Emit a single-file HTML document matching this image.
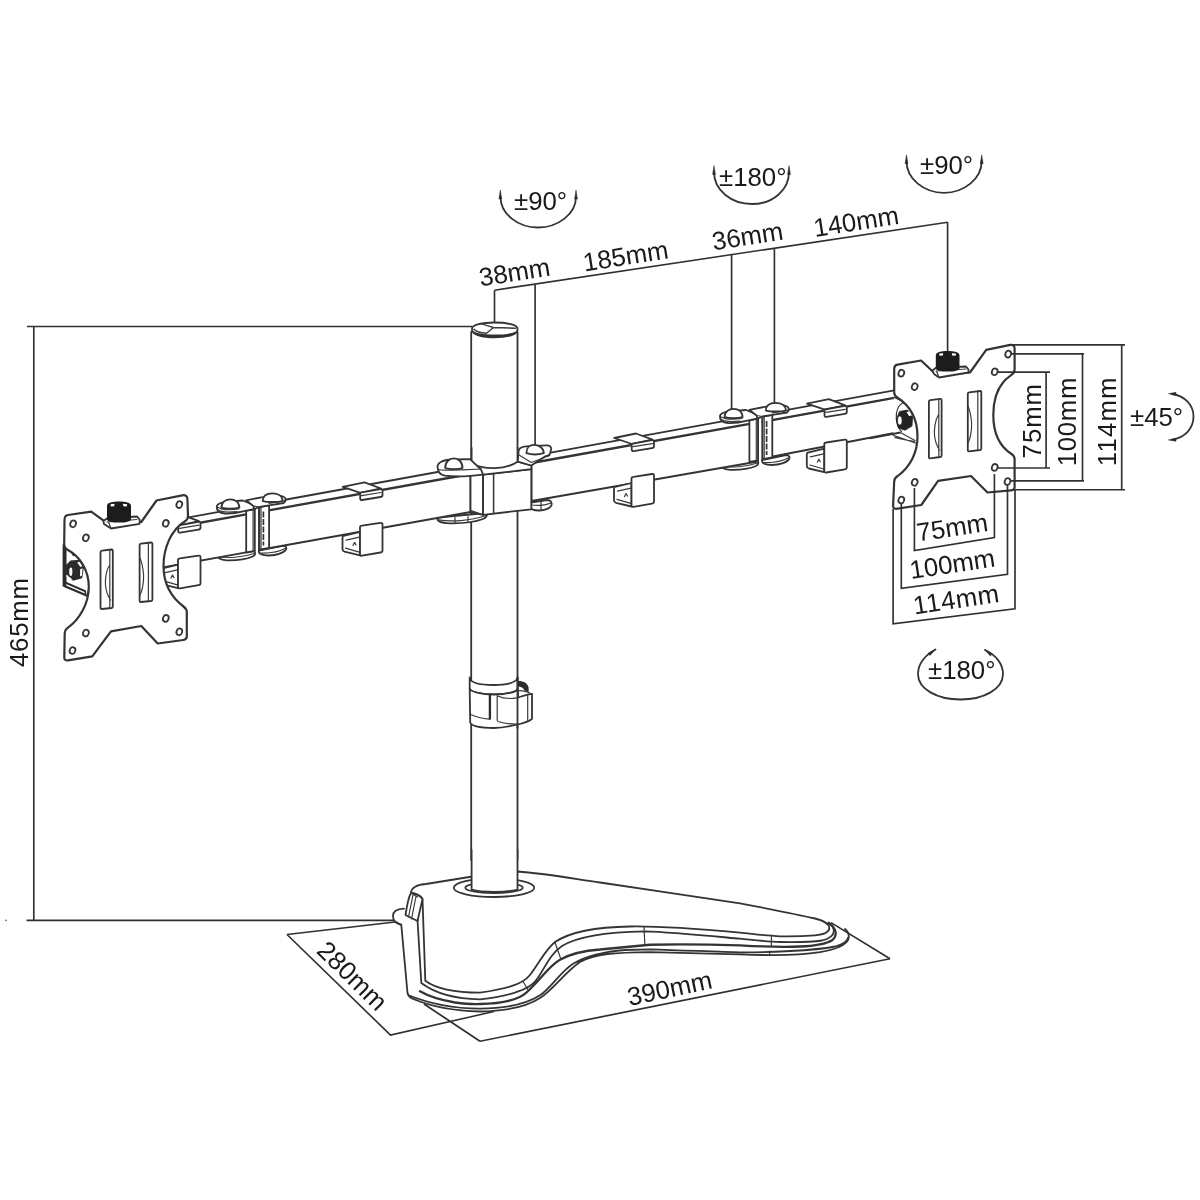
<!DOCTYPE html>
<html><head><meta charset="utf-8"><title>Dual monitor stand</title>
<style>
html,body{margin:0;padding:0;background:#fff;width:1200px;height:1200px;overflow:hidden}
svg{display:block;will-change:transform}
text{font-family:"Liberation Sans",sans-serif;font-size:25.8px;fill:#1a1a1a}
.l{fill:none;stroke:#343434;stroke-width:1.8;stroke-linejoin:round;stroke-linecap:round}
.t{fill:none;stroke:#3a3a3a;stroke-width:1.2;stroke-linejoin:round;stroke-linecap:round}
.d{fill:none;stroke:#303030;stroke-width:1.65}
.w{fill:#fff;stroke:#343434;stroke-width:1.8;stroke-linejoin:round}
.k{fill:#1c1c1c;stroke:none}
</style></head>
<body>
<svg width="1200" height="1200" viewBox="0 0 1200 1200">
<!-- ===== DIMENSIONS ===== -->
<circle cx="6" cy="920.3" r="0.9" fill="#666"/>
<g id="dims">
<!-- 465 -->
<path class="d" d="M27,326.5H472M33.8,326.5V920.3M26.5,920.3H394"/>
<text transform="translate(27.5,667) rotate(-90)" letter-spacing="0.75">465mm</text>
<!-- top dimension line -->
<path class="d" d="M494.5,290.2L947.6,222.2M494.5,290.2V327M535.1,284.1V455M731.6,254.7V410M774.4,248.6V405M947.6,222.2V356"/>
<text transform="translate(480.5,286.5) rotate(-9)">38mm</text>
<text transform="translate(584.5,271.5) rotate(-9)">185mm</text>
<text transform="translate(713.5,250.5) rotate(-9)">36mm</text>
<text transform="translate(815,237) rotate(-9)">140mm</text>
</g>
<!-- rotation arcs -->
<g id="rot">
<path class="l" d="M500.5,197 C500.5,214 518,227.5 538,227.5 C558,227.5 576,214 576,197"/>
<text x="514" y="209.5">±90°</text>
<path class="l" d="M714,172 C714,190 731,204 752,204 C773,204 789,190 789,172"/>
<text x="719" y="185.5">±180°</text>
<path class="l" d="M906.5,161 C906.5,179 924,192.8 944,192.8 C964,192.8 981.7,179 981.7,161"/>
<text x="920" y="174.4">±90°</text>
<path class="l" d="M935.5,649.5 C925,655 918,664 918,674 C918,689 937,699.5 960.5,699.5 C984,699.5 1003,689 1003,674 C1003,664 996,655 985,650"/>
<text x="928" y="679">±180°</text>
<path class="l" d="M1172,394 C1185,396 1193.5,405 1193.5,416.6 C1193.5,428.5 1185,437.8 1172,439.6"/>
<text x="1130" y="426">±45°</text>
<g fill="#2a2a2a" stroke="#2a2a2a" stroke-width="0.5" stroke-linejoin="round">
<path d="M500.3,190 L498.9,199 L501.7,199 Z"/><path d="M576,190 L574.6,199 L577.4,199 Z"/>
<path d="M714,165.5 L712.6,174.5 L715.4,174.5 Z"/><path d="M789,165.5 L787.6,174.5 L790.4,174.5 Z"/>
<path d="M906.5,154.8 L905.1,163.8 L907.9,163.8 Z"/><path d="M981.7,154.8 L980.3,163.8 L983.1,163.8 Z"/>
<path d="M935.8,649.3 L929.9,655.6 L928.2,653.2 Z"/><path d="M984.8,649.8 L992.1,653.6 L990.4,656.1 Z"/>
<path d="M1168.5,393.7 L1176,392.3 L1176,395.3 Z"/><path d="M1168.5,439.9 L1176,438.3 L1176,441.3 Z"/>
</g>

</g>
<!-- ===== POLE ===== -->
<g id="pole">
<path class="l" d="M471.2,332V860M517.5,332V860"/>
<!-- cap -->
<path class="w" d="M472,328.5 C472,325 482,322.5 494.7,322.5 C507.5,322.5 517.5,325 517.5,328.5 L517.5,330 C517.5,334.5 507.5,337.3 494.7,337.3 C482,337.3 472,334.5 472,330 Z"/>
<path fill="#303030" d="M472,329.5 C472,334.3 482,337.4 494.7,337.4 C507.5,337.4 517.5,334.3 517.5,329.5 C517.2,332.6 507.5,334.6 494.7,334.6 C482,334.6 472.3,332.6 472,329.5 Z"/>
<path class="t" style="stroke-width:1.4" d="M480,323.4 C485,325 490,326.5 493.5,327.5 L515.5,328.2 M493.5,327.5 L486.5,333.2 C482,333 476,331.5 474,329.3"/>
<!-- cable clip -->
<path class="w" d="M469.7,677.5 C470,683 481,685 494,685 C505,685 517,683 517.6,677.5 L517.6,689 C517,692 506,694.5 494,694.5 C481,694.5 470,692 469.7,688.5 Z"/>
<path class="w" d="M469.7,688.5 C470,691.5 481,694.5 494,694.5 C506,694.5 517,692 517.6,689 L518,697.6 C522,696.5 527,694 532,693.8 L532,718.8 C529,722 520,724 514.2,725.2 C507,727 500,728 494,728 C481,728 471,726 470.2,722.4 Z"/>
<path class="t" d="M470,714.2 C475,716.5 482,718.5 489.4,719.2 M497.2,695.5 V720.5 M497.7,696 C503,698.5 510,699.2 517.5,697.6 M497.7,721.5 C505,723.5 512,724.5 518,724 M527.7,694.8 V720.3 M518,690.6 C523,690.5 527.5,691.5 530,693.2"/>
<path d="M489.9,695 V719.5" stroke="#2b2b2b" stroke-width="2.3" fill="none"/>
<path d="M517.5,681 C522.5,680.5 527.5,682.5 528.6,687.5 L528.6,692 L524.5,690.5 C523.5,688 521,686.8 517.5,686.6 Z" fill="#2b2b2b"/>
<path class="l" d="M517.5,677.5V728"/>
</g>
<!-- ===== BASE ===== -->
<g id="base">
<!-- floor dims -->
<path class="d" d="M287,934.5 L395,922 M287,934.5 L390.5,1035 L494,1011.5 M480,1041.3 L424,1004 M480,1041.3 L890,958.7"/>
<text transform="translate(315.5,952) rotate(44.5)">280mm</text>
<text transform="translate(629.5,1006) rotate(-12)">390mm</text>
<!-- flange (lower tier) -->
<path fill="#fff" d="M393,916 C393,911 398,909 404,908.7 L420,906 L420,990 L830,922.5 C838,924 846,928 848.3,933 C849.8,938 846,943 838,946.5 C820,952 800,955.5 770,955.8 L740,954.5 L650,952.2 C615,952.5 595,954 580,962 C565,972 553,990 540,998 C525,1008 505,1011 480,1011.5 C455,1011 432,1007 412,998.5 C409,997 408,995 407.5,993 L401.3,925 C397,924 393,921 393,916 Z"/>
<path class="l" d="M404,908.7 C398,909 393,911 393,916 C393,921 397,924 401.3,925 L407.5,993 C408,995 409,997 412,998.5 C432,1007 455,1011 480,1011.5 C505,1011 525,1008 540,998 C553,990 565,972 580,962 C595,954 615,952.5 650,952.2 L740,954.3 C770,955.6 800,955.3 820,952.2 C835,949.5 846,945 848.3,939.5 C849.5,935.5 848,931.5 845,929 M393.5,919.5 C395,922 398,923.5 401.3,924.5 M408,995 C430,1004 455,1008.5 480,1008.7 C505,1008.5 525,1005 540,995.3 C552,987 560,972 573.5,963.5 C585,957 600,952 625,950 L650,949.3 C690,950.5 720,952 740,952.3 C760,952.5 775,951.8 790,951 C810,950 825,948.5 835,946.5 C843,944.5 847.5,941 848.3,937.3"/>
<path class="l" style="stroke-width:2.3" d="M420,991.3 C428,996 440,1000 455,1002.5 C465,1003.8 475,1004.2 480,1004 C505,1003.5 520,999 527,992 C540,980 550,965 560,959.75 C572,953 585,950.5 600,949.5 L650,944.75 C680,944.2 710,944.5 740,945.3 C760,946.5 780,947.3 800,946.5 C815,946 827,943.5 832.5,940 C836,937.5 836.5,932.5 834.5,929 C833,926.5 831,924.5 829,923"/>
<!-- upper body -->
<path class="w" d="M411,893 C411,888 417,884.5 426,884 L494,873 L518,871.5 C540,873 560,876.5 600,882.5 L740,903.3 C775,910 800,915 815,918.5 C824,920.8 829.3,924 829.3,928 C829.3,932 824,934.5 815,935.3 C800,936.5 790,936.5 780,936.3 C765,935.5 752,933.8 740,932.7 C700,929 660,926 630,926.5 C595,927 570,932 555,942 C545,950 540,962 530,975 C522,985 505,989 480,992.7 C455,992.5 435,988 425.3,980.7 L422.5,899 C420,895 415,893.5 411,893 Z"/>
<path class="l" d="M828.5,922.5 C831.5,924.5 834,928 833.8,931.5 C833.5,935.5 830,938.5 822,940.5 C812,942 795,942.3 780,942 C765,941.5 752,939.8 740,938.7 C700,935 670,932 645,931.3 C605,932 578,936 562,946 C550,954 545,968 537,979 C530,990 510,996 480,999.3 C458,999 436,994 421.3,983 L417.5,920"/>
<path class="t" d="M644,926.8 L644.8,944 M771.5,935.5 L771.3,946.5 M770,951 L769.5,955 M554.8,941.8 L560.8,959 M523,981.5 L528.5,990.5"/>
<!-- grip rib -->
<path class="w" d="M411,893 C409,896 407,905 405.5,915 L417.5,921 L422.5,899 C420,895 415,893.5 411,893 Z"/>
<path class="t" d="M413,895 L408.5,917 M416,896.5 L411.5,919 M411,893 L417.5,897"/>
<!-- pole hole -->
<ellipse cx="494" cy="887.7" rx="40.2" ry="9.3" class="w"/>
<ellipse cx="494" cy="887.7" rx="28.7" ry="5.3" class="w"/>
<path class="w" d="M471.6,850 L471.6,889 C478,891 486,891.5 494.5,891.5 C503,891.5 511,891 517.5,889 L517.5,850 Z" style="stroke:none"/>
<path class="l" d="M471.6,850 L471.6,889.5 M517.5,850 L517.5,889.5 M471.6,889.5 C478,891.3 486,891.8 494.5,891.8 C503,891.8 511,891.3 517.5,889.5"/>
</g>
<path class="d" d="M890,958.7 L831,922.6"/>
<!-- ===== ARM ===== -->
<defs>
<g id="jU">
<!-- bottom tabs (under arm) -->
<path class="w" d="M720.5,463.5 C719.5,467 723,469.5 730,469.8 C740,470 750,468.5 756,466 C758.5,464.8 759,462.5 757.5,460.5 Z"/>
<path class="t" d="M721.5,466 C730,468 746,467 757.5,463"/>
<path class="w" d="M762,460 C761.5,463.5 765,465 772,465 C780,464.5 786,462.5 788.5,460 C790.5,457.5 789.5,455 786,455 Z"/>
<path class="t" d="M762.5,462.5 C772,463 782,461.5 788.8,457.8"/>
</g>
<g id="jO">
<!-- left block -->
<path class="w" d="M749.4,420 L758,418.5 L758,460.5 L749.4,462 Z"/>
<path class="t" d="M756.3,418.8 V460.8"/>
<!-- right block -->
<path class="w" d="M762.5,416.5 L772.3,414.8 L772.3,457.5 L762.5,459.2 Z"/>
<path class="t" d="M764.2,416.2 V459"/>
<path d="M766.6,421 V455" stroke="#333" stroke-width="1.7" stroke-dasharray="6,1.5" fill="none"/>

<!-- left tab + washer + screw -->
<path class="w" d="M720,417 C719.5,413.5 724,411.8 731,411.2 L746,410 L758,415 L758,418.5 L745,421.2 C740,422.6 734,423.2 728,423 C723,422.6 720,420.5 720,417 Z"/>
<path class="t" d="M720.3,418.8 C723,421.3 730,422.3 740,421.2 M721,416.8 C724,419 732,419.8 742,418.5"/>
<path class="w" d="M724.6,417.2 C724.6,411.5 729,408.8 733.6,408.8 C738.2,408.8 742.6,411.5 742.6,417.2 C738,418.6 729,418.6 724.6,417.2 Z"/>
<!-- right tab + screw -->
<path class="w" d="M749.3,409.8 L766,406.6 C770,405.6 779,404.8 785,405.6 C788.3,406.3 789.3,408.4 788.5,410.6 L787,412.5 L772.3,414.8 L762.5,416.5 L757.5,418.6 L756.5,415.5 Z"/>
<path class="t" d="M756.5,415.5 L762.5,416.5 L762.5,419"/>
<path class="t" d="M772.3,412.8 L788,410.2"/>
<path class="w" d="M765.9,410.6 C765.9,405.2 770,402.8 775.6,402.8 C781,402.8 785.8,405.2 785.8,410.6 C781,411.8 770.5,411.8 765.9,410.6 Z"/>
</g>
<g id="clip">
<!-- top clip -->
<path class="w" d="M614.2,438 L636,433.5 L652.5,439.6 L632,444 Z"/>
<path class="w" d="M632,443.8 L652,440.2 Q654,440 654,442 L654,446 Q654,447.8 652,448.1 L633.6,451.1 Q631.7,451.3 631.7,449.5 L631.7,445.3 Q631.7,444 632,443.8 Z"/>
<path class="t" d="M633,446.7 L652.5,443.6"/>
<!-- bottom clip -->
<path class="w" d="M615,487 L631.5,483 L631.5,506.5 L616,502.8 Q614,502.2 614,500.2 L614,488.6 Q614,487.3 615,487 Z"/>
<path class="t" d="M617.5,491.2 L631,488.2 M617,499.3 L630.8,503.3 M624.5,496.5 L626,493.5 L627.5,496"/>
<path class="w" d="M631.5,478.6 Q631.5,477 633.5,476.8 L652,474 Q654,473.8 654,475.6 L654,501.6 Q654,503.3 652,503.6 L633.5,506.8 Q631.5,507.1 631.5,505.3 Z"/>
</g>
</defs>
<g id="arm">
<use href="#jU"/>
<use href="#jU" transform="translate(-503.2,90.5)"/>
<!-- hub bottom tabs -->
<g transform="translate(0,-2.5)">
<path class="w" d="M437.6,520 C436.5,523.5 440,525.5 450,525.8 C462,526 475,524.5 483,521.5 C487,520 487.5,517.5 486,515.5 Z"/>
<path class="t" d="M438.5,522.3 C450,524.5 470,523.5 486.3,518 M455,520 V525 M468,519 V524.5"/>
<path class="w" d="M531,509 C530.5,512 534,513.2 540,513 C546,512.5 550,510.5 551.5,508 C552.5,505 550.5,502.5 547,502.5 L531,505 Z"/>
<path class="t" d="M531,507.5 C538,508.5 546,507.5 551.5,505.5 M541,504 V512"/>
</g>
<!-- L-outer (extends behind plate) -->
<path class="w" d="M160,522.6 L249,506.3 L249,551.9 L160,568 Z"/>
<path class="l" style="stroke-width:2.3" d="M160,530 L249,513.8"/>
<!-- L-inner -->
<path class="w" d="M259,504.5 L470.5,466 L470.5,512 L259,550 Z"/>
<path class="l" style="stroke-width:2.3" d="M259,512.1 L470.5,474"/>
<!-- R-inner -->
<path class="w" d="M531.5,456.1 L758,414.8 L758,461.5 L531.5,501 Z"/>
<path class="l" style="stroke-width:2.3" d="M531.5,463 L758,422.3"/>
<!-- R-outer (extends behind plate) -->
<path class="w" d="M762.5,414.4 L897,389.8 L897,432.5 L762.5,458.5 Z"/>
<path class="l" style="stroke-width:2.3" d="M762.5,421.9 L897,397.3"/>
<!-- clips -->
<use href="#clip"/>
<use href="#clip" transform="translate(-271.5,48.9)"/>
<use href="#clip" transform="translate(192.8,-34.3)"/>
<use href="#clip" transform="translate(-453.5,81.6)"/>
<!-- joints -->
<use href="#jO"/>
<use href="#jO" transform="translate(-503.2,90.5)"/>
<!-- HUB -->
<path class="w" d="M470.5,466 L483.1,468.7 L483.1,514.8 L470.5,512 Z"/>
<path class="t" d="M470.5,510.4 L483.1,514.8"/>
<path class="w" d="M483.1,474.7 L531.3,469.2 L531.3,509.3 L483.1,514.8 Z"/>
<path class="l" style="stroke-width:1.5" d="M493.6,473.6 V513.3"/>
<path class="w" d="M483.1,474.7 L478,469 L472.3,463.3 L517.8,461.7 L531.3,465.5 L531.3,469.2 Z"/>
<path class="w" d="M471.6,448 L471.6,463.3 C478,467.2 486,468.4 495,468.2 C504,468 512,465.5 517.5,461.7 L517.5,448 Z" style="stroke:none"/>
<path class="l" d="M471.6,448 L471.6,463.3 C478,467.2 486,468.4 495,468.2 C504,468 512,465.5 517.5,461.7 L517.5,448"/>
<!-- hub left tab + screw -->
<path class="w" d="M437.6,467.5 C437,463 442,460 452,459.5 L470,459.2 L481,469.5 L483.1,474.7 L470.5,475.8 C462,476.5 452,476.5 445,475.6 C440,474.8 437.8,471.5 437.6,467.5 Z"/>
<path class="t" d="M438.5,469.5 C441,470.6 450,470.2 462,469.8 L481.5,469"/>
<path class="w" d="M445.2,468 C445.2,461.5 449.5,458.4 453.8,458.4 C458.2,458.4 462.5,461.5 462.5,468 C458,469.5 450,469.5 445.2,468 Z"/>
<!-- hub right tab + screw -->
<path class="w" d="M518.5,452 C518.3,448.5 521,446.8 526,446.4 L546,445.3 C550,445.1 551.6,447 551.1,449.5 L550.2,453 C549.6,455.2 547.6,456 545,456.4 L531.3,465.5 L517.8,461.7 Z"/>
<path class="t" d="M519,455 L531.3,462.5 L549.8,455.5"/>
<path class="w" d="M526.4,453.2 C526.4,447.5 530,444.9 534,444.9 C538.5,444.9 543.8,447.5 543.8,453.2 C539,454.6 531,454.6 526.4,453.2 Z"/>
</g>
<!-- ===== LEFT PLATE ===== -->
<g id="lplate">
<!-- mechanism behind -->
<path class="w" d="M63.5,545 L63.5,586 L87,596 L92,580 L92,560 L80,548 Z"/>
<path fill="#2b2b2b" d="M63,546 L66.5,546 L66.5,585 L63,585 Z"/>
<path fill="none" stroke="#2b2b2b" stroke-width="2.2" d="M66.5,548.5 C70,550 73,553 74,556"/>
<path fill="#2b2b2b" d="M63.2,580.5 L86,590.5 L86.5,595.5 L64,586.5 Z"/>
<path fill="#fff" d="M66,584 L84.5,592 L84.8,593.6 L66.5,585.8 Z"/>
<path fill="#2b2b2b" d="M70.5,560.5 L79.8,559.8 L84,567 L82.2,578.2 L73.2,580.8 L66.2,575 L66,565 Z"/>
<path fill="#fff" d="M77.2,562.4 L79.5,561.8 L82.4,566 L80.4,567 Z M80.2,569 L82.6,568.4 L82,575.6 L80,576.4 Z M65.8,576 L67,575 L71.6,578.2 L70.8,579.8 Z"/>
<ellipse cx="70.8" cy="571.8" rx="2.6" ry="5.2" fill="none" stroke="#2b2b2b" stroke-width="1.2"/>
<ellipse cx="70.8" cy="571.8" rx="1.6" ry="4.2" fill="#fff"/>
<path class="w" style="stroke-width:2.2" d="M64.5,520 Q64.5,515.5 68,515 L91.2,511.6 L104,520.9 L141.3,522 L156.5,500.5 L182.2,495.3 Q187.4,494.5 187.4,499.3 L188,516 Q188,519.5 185,521.3 C171,530 163.5,548 163.5,566 C163.5,584 171,597 183.5,606.5 Q186.8,609 186.8,612 L186.8,636.5 Q186.8,639.5 183.3,640 L157.7,643.5 L141.3,626 L111,631.3 L92.3,656.3 L68,660.4 Q64.3,661 64.3,657.5 L64.7,633.5 Q64.8,629.8 68,627.6 C79,620 88.8,604 88.8,587 C88.8,570 80,556.5 67.5,549.8 Q64.2,548 64.2,544.5 Z"/>
<!-- holes -->
<g class="l">
<ellipse cx="73.1" cy="523.8" rx="2.8" ry="3.4" transform="rotate(20 73.1 523.8)"/>
<ellipse cx="85.9" cy="537.8" rx="2.8" ry="3.4" transform="rotate(20 85.9 537.8)"/>
<ellipse cx="179.3" cy="504.6" rx="2.8" ry="3.4" transform="rotate(20 179.3 504.6)"/>
<ellipse cx="165.8" cy="523.3" rx="2.8" ry="3.4" transform="rotate(20 165.8 523.3)"/>
<ellipse cx="72.5" cy="650.5" rx="2.8" ry="3.4" transform="rotate(20 72.5 650.5)"/>
<ellipse cx="85.9" cy="633" rx="2.8" ry="3.4" transform="rotate(20 85.9 633)"/>
<ellipse cx="179.3" cy="631.8" rx="2.8" ry="3.4" transform="rotate(20 179.3 631.8)"/>
<ellipse cx="165.8" cy="618.4" rx="2.8" ry="3.4" transform="rotate(20 165.8 618.4)"/>
</g>
<!-- slots -->
<path class="l" d="M100.5,552 Q100.5,550.7 102,550.6 L111.5,549.5 Q112.8,549.5 112.8,551 L112.8,606.5 Q112.8,607.8 111.5,608 L102,609 Q100.5,609.2 100.5,607.8 Z"/>
<path class="t" d="M109.8,550.8 V608 M109.8,565 C106,570 105,580 105.5,585 C106,592 108,596 110.5,600"/>
<path class="l" d="M139.6,545 Q139.6,543.8 141,543.6 L151,542.5 Q152.4,542.4 152.4,544 L152.4,599.5 Q152.4,600.8 151,601 L141,602 Q139.6,602.2 139.6,600.8 Z"/>
<path class="t" d="M148.4,543 V601.3 M140,558 C143,565 144,575 143.5,580 C143,587 141.5,592 140,595"/>
<!-- knob -->
<path class="w" d="M103.4,521 L107,518.5 L137,516.5 L139.6,519.5 L139.6,523.8 L111,528.5 L104,524 Z"/>
<path class="t" d="M107,522 L137,519.5 M111,528.5 L108.5,522"/>
<path class="k" d="M107,506 C107,502.5 112.5,501.6 119,501.6 C125.5,501.6 131,502.5 131,506 L131,519.5 C131,521.5 125.5,522.6 119,522.6 C112.5,522.6 107,521.5 107,519.5 Z"/>
<path fill="#fff" d="M110.5,504.2 L114.5,503.8 L114.2,506.2 L110.8,506.4 Z M123,503.8 L127.2,504.2 L126.8,506.4 L123.3,506.2 Z"/>
</g>
<!-- ===== RIGHT PLATE ===== -->
<g id="rplate">
<path fill="#fff" d="M894,396 L903,401 L912,410 L918,425 L918,446 L893,446 Z"/>
<path class="l" d="M895,397.5 C899,399 902,401 904,403 M870,438.3 L900.3,432.5"/>
<path class="t" d="M902.7,402.8 C897.5,406 896,412 896.3,418 C896.5,424 898,428.5 901.5,431.3"/>
<path fill="#222" stroke="#222" stroke-width="0.8" d="M899.5,411.5 L907.5,410 L912.6,416.5 L912,426 L905,430.2 L898.5,428 L896.3,419.5 Z"/>
<ellipse cx="899.8" cy="420.5" rx="2.3" ry="4.6" fill="#fff" stroke="#222" stroke-width="0.8"/>
<path fill="#fff" d="M906.5,412 L909.5,411.5 L912,415.5 L909,416 Z"/>
<path class="t" d="M893.3,435.4 L915.5,443 M895,437.6 L914.3,441.6 M900.3,432.5 L915,440.5"/>
<path class="w" style="stroke-width:2.2" d="M894.2,369 Q894.2,365.2 897.5,364.7 L921.1,360.5 L936.7,375.3 L970,372.5 L986.2,349.8 L1010.3,344.9 Q1014.6,344.5 1014.6,348.4 L1014.6,369.5 Q1014.6,373 1011.5,374.8 C999,383 993.3,398 993.3,415 C993.3,432 999,446 1011.5,454 Q1014.6,456 1014.6,459 L1014.6,487.2 Q1014.6,490 1011,490.3 L987.5,492.5 L971,476 L938.1,480.9 L921.3,505 L896,508.8 Q893.1,509 893.1,505.5 L894.2,481.5 Q894.3,478.2 897.3,476.3 C910.5,467 917.5,452 917.5,436.5 C917.5,420 910.5,406 897.3,397.5 Q894.2,395.5 894.2,392.5 Z"/>
<g class="l">
<ellipse cx="901.3" cy="373.2" rx="2.8" ry="3.4" transform="rotate(20 901.3 373.2)"/>
<ellipse cx="914.7" cy="386.7" rx="2.8" ry="3.4" transform="rotate(20 914.7 386.7)"/>
<ellipse cx="1008.2" cy="354.1" rx="2.8" ry="3.4" transform="rotate(20 1008.2 354.1)"/>
<ellipse cx="994.7" cy="371.8" rx="2.8" ry="3.4" transform="rotate(20 994.7 371.8)"/>
<ellipse cx="994.7" cy="467.4" rx="2.8" ry="3.4" transform="rotate(20 994.7 467.4)"/>
<ellipse cx="1007.5" cy="481.6" rx="2.8" ry="3.4" transform="rotate(20 1007.5 481.6)"/>
<ellipse cx="914.7" cy="482.3" rx="2.8" ry="3.4" transform="rotate(20 914.7 482.3)"/>
<ellipse cx="901.3" cy="500" rx="2.8" ry="3.4" transform="rotate(20 901.3 500)"/>
</g>
<path class="l" d="M928.9,401.5 Q928.9,400.3 930.3,400.1 L940.3,398.8 Q941.6,398.7 941.6,400 L941.6,455.5 Q941.6,456.8 940.3,457 L930.3,458.3 Q928.9,458.5 928.9,457.2 Z"/>
<path class="t" d="M938.8,399 V457.3 M938.8,414 C935,420 934,430 934.5,435 C935,442 937,446 939.5,450"/>
<path class="l" d="M967.8,393.7 Q967.8,392.5 969.2,392.3 L980,391 Q981.3,390.9 981.3,392.2 L981.3,448.5 Q981.3,449.8 980,450 L969.2,451.3 Q967.8,451.5 967.8,450.2 Z"/>
<path class="t" d="M977.8,391.3 V450.3 M968,406 C971,413 972,423 971.5,428 C971,435 969.5,440 968,443"/>
<path class="w" d="M932.4,370.4 L936,367.8 L966,366.5 L968.5,369.5 L968.5,372.5 L939,377.5 L934,374 Z"/>
<path class="t" d="M936,371 L966,369 M939,377.5 L936.5,371"/>
<path class="k" d="M935.8,355.5 C935.8,352 941.3,351 947.6,351 C953.9,351 959.5,352 959.5,355.5 L959.5,368.5 C959.5,370.5 953.9,371.6 947.6,371.6 C941.3,371.6 935.8,370.5 935.8,368.5 Z"/>
<path fill="#fff" d="M939.2,353.6 L943.2,353.2 L942.9,355.6 L939.5,355.8 Z M951.8,353.2 L956,353.6 L955.6,355.8 L952.1,355.6 Z"/>
</g>
<!-- right plate dims -->
<path class="d" d="M1008,344.9H1125M1011,353.8H1084M998,372.1H1050M998,468H1050M1011,480.8H1084M1013,489.7H1125M1046.1,372.1V468M1082.5,353.8V480.8M1121.7,344.9V489.7"/>
<text transform="translate(1040.6,458.4) rotate(-90)" letter-spacing="0.93">75mm</text>
<text transform="translate(1075.6,466.2) rotate(-90)" letter-spacing="0.65">100mm</text>
<text transform="translate(1115.5,466.2) rotate(-90)" letter-spacing="1.15">114mm</text>
<path class="d" d="M914.4,488V550.6L994.4,537.5V474M901.3,503V588.3L1007.5,574.4V486M893.1,509V623.8L1015,608.8V490"/>
<text transform="translate(918,541.5) rotate(-8.5)">75mm</text>
<text transform="translate(911,579) rotate(-8.5)">100mm</text>
<text transform="translate(914.5,614.5) rotate(-8.5)" letter-spacing="0.6">114mm</text>
</svg>
</body></html>
